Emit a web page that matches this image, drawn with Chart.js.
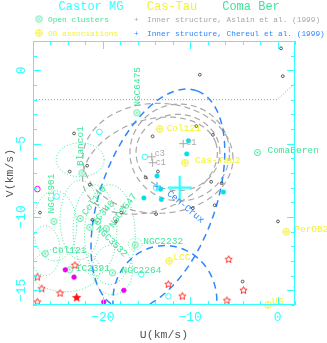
<!DOCTYPE html>
<html>
<head>
<meta charset="utf-8">
<script src="https://cdn.jsdelivr.net/npm/chart.js@4.4.1/dist/chart.umd.min.js"></script>
<style>
html, body { margin: 0; padding: 0; background: #fff; }
</style>
</head>
<body>
<canvas id="uvChart" width="327" height="343"></canvas>
<script>
// axis ranges and tick labels
var uRange = [-28, 2];
var vRange = [-16, 2];
var uTickLabels = [-20, -10, 0];
var vTickLabels = [0, -5, -10, -15];

var titleNames = ["Castor MG", "Cas-Tau", "Coma Ber"];
var legendLabels = ["Open clusters", "OB associations",
    "Inner structure, Aslain et al. (1999)", "Inner structure, Chereul et al. (1999)"];

// open clusters
var clusterNames = ["NGC6475", "Blanco1", "NGC1901", "Col140", "IC348", "NGC2547", "NGC3532",
    "NGC2232", "NGC2264", "IC2391", "Col121", "ComaBeren"];
var clusterU = [-16.1, -22.4, -25.6, -22.6, -21.5, -19.6, -20.6, -16.3, -18.9, -23.8, -26.6, -2.3];
var clusterV = [-2.9, -7.0, -10.3, -10.1, -10.7, -10.8, -10.3, -11.9, -13.8, -13.6, -12.5, -5.6];

// OB associations
var obNames = ["Col121", "Cas-Tau2", "PerOB2", "LCC", "US"];
var obU = [-13.5, -10.6, 1.0, -12.4, -1.1];
var obV = [-4.0, -6.3, -11.0, -13.0, -16.0];

// Castor MG members
var castorU = [-10.2, -10.4, -13.8, -13.4, -15.3, -13.3, -6.2];
var castorV = [-4.8, -5.7, -7.2, -8.1, -8.7, -8.8, -8.3];
var castorOpenU = [-20.4, -15.2, -25.3, -13.9, -15.6, -12.5];
var castorOpenV = [-4.2, -5.9, -8.6, -8.0, -13.9, -15.4];
var castorMeanU = [-11.2];
var castorMeanV = [-8.0];

// field stars
var fieldU = [0.4, -8.9, 0.6, -23.3, -14.3, -7.4, -9.3, -21.8, -23.8, -15.1, -13.7, -21.5,
    -7.6, -6.4, -27.2, -17.9, -13.9, -9.7, -7.2, -18.5, -21.2, 0.05, -4.0];
var fieldV = [1.5, -0.3, -0.4, -4.3, -4.5, -4.4, -3.8, -6.5, -6.9, -7.3, -6.9, -7.8,
    -7.6, -7.7, -9.7, -9.7, -9.8, -9.4, -9.2, -10.3, -10.2, -10.3, -14.4];

var magentaOpenU = [-27.5];
var magentaOpenV = [-8.1];
var magentaU = [-24.3, -23.3, -17.6, -19.9];
var magentaV = [-13.6, -14.1, -15.0, -15.8];

var starU = [-27.5, -27.0, -24.9, -27.5, -23.2, -12.5, -10.9, -5.6, -3.9, -5.8];
var starV = [-14.1, -14.9, -15.2, -15.8, -13.3, -14.6, -15.4, -12.9, -15.0, -15.7];
var starFilledU = [-23.0];
var starFilledV = [-15.5];

// inner structures
var asiainNames = ["c3", "c1", "c1"];
var asiainU = [-14.4, -14.3, -10.8];
var asiainV = [-5.9, -6.3, -5.0];
var chereulNames = ["Cen-Crux"];
var chereulU = [-13.8];
var chereulV = [-7.9];

// dotted limit line
var limitU = [-28, 0, 2];
var limitV = [-2, -2, -0.85];

// ellipses: centre u, v, first semi-axis (du, dv), second semi-axis (du, dv)
var asiainEllipses = [
    [-11.4, -5.6, 4.8, 0, 0, 2.6],
    [-11.2, -5.6, 5.7, 0, 0, 3.3],
    [-13.7, -6.0, 8.6, 0, 0, 3.75],
    [-14.6, -6.5, 7.5, 1.6, 1.8, -2.9]
];
var chereulEllipses = [
    [-13.7, -8.8, 4.5, 7.4, 6.2, -1.35],
    [-12.9, -15.7, 5.95, 0, 0, 3.75]
];
var clusterEllipses = [
    [-22.6, -6.1, 2.75, 0, 0, 1.16],
    [-25.5, -10.6, 2.5, 0, 0, 2.4],
    [-22.6, -10.2, 2.3, 0, 0, 2.7],
    [-20.9, -10.9, 2.5, 0, 0, 3.1],
    [-19.2, -11.2, 2.9, 0, 0, 3.4],
    [-24.3, -13.6, 4.0, 0, 0, 1.5],
    [-18.9, -13.6, 2.3, 0, 0, 1.7],
    [-16.3, -11.85, 0.8, 0, 0, 0.41],
    [-26.6, -12.3, 1.7, 0, 0, 1.7]
];

// colours and label placement (pixel offsets from the marker)
var cyan = "#33ffff";
var green = "#3fe59a";
var yellow = "#f2f230";
var blue = "#2f86ff";
var gray = "#a8a8a8";
var monoFont = "'Liberation Mono', 'DejaVu Sans Mono', monospace";

var clusterLabelPos = [
    [1, -6, -90], [-1, -7, -90], [-2, -8, -90], [4, -4, -54], [4, -4, -48], [5, -2, -54],
    [0, 6, 45], [8, -3, 0], [9, -2, 0], [6, -1, 0], [7, -3, 0], [10, -2, 0]
];
var obLabelPos = [[7, -1], [10, -2], [8, -2], [4, -4], [4, -4]];
var asiainLabelPos = [[3, -3], [3, 0], [3, -1]];
var chereulLabelPos = [[11, 6, 40]];

function makeSymbol(kind, color, r) {
    var size = Math.ceil(r * 2 + 3);
    var c = document.createElement('canvas');
    c.width = size;
    c.height = size;
    var g = c.getContext('2d');
    var m = size / 2;
    g.strokeStyle = color;
    g.fillStyle = color;
    g.lineWidth = 1;
    if (kind == 'cluster') {
        g.beginPath(); g.arc(m, m, r, 0, Math.PI * 2); g.stroke();
        g.beginPath(); g.arc(m, m, 0.9, 0, Math.PI * 2); g.fill();
    } else if (kind == 'ob') {
        g.beginPath(); g.arc(m, m, r, 0, Math.PI * 2); g.stroke();
        g.beginPath();
        g.moveTo(m - r, m); g.lineTo(m + r, m);
        g.moveTo(m, m - r); g.lineTo(m, m + r);
        g.stroke();
    } else {
        g.beginPath();
        for (var i = 0; i < 10; i++) {
            var a = -Math.PI / 2 + i * Math.PI / 5;
            var rr = i % 2 ? r * 0.45 : r;
            g.lineTo(m + rr * Math.cos(a), m + rr * Math.sin(a));
        }
        g.closePath();
        if (kind == 'starFilled') g.fill(); else g.stroke();
    }
    return c;
}

var clusterSym = makeSymbol('cluster', green, 3);
var obSym = makeSymbol('ob', yellow, 3.3);
var starSym = makeSymbol('star', "#ff3030", 3.8);
var starFilledSym = makeSymbol('starFilled', "#ff1010", 5);

function pts(us, vs) {
    return us.map(function(u, i) { return {x: u, y: vs[i]}; });
}

function drawEllipses(ctx, xs, ys, list, color, dash, width) {
    ctx.strokeStyle = color;
    ctx.lineWidth = width;
    ctx.setLineDash(dash);
    list.forEach(function(e) {
        ctx.beginPath();
        for (var k = 0; k <= 120; k++) {
            var t = k / 120 * Math.PI * 2;
            var u = e[0] + e[2] * Math.cos(t) + e[4] * Math.sin(t);
            var v = e[1] + e[3] * Math.cos(t) + e[5] * Math.sin(t);
            var px = xs.getPixelForValue(u), py = ys.getPixelForValue(v);
            if (k == 0) ctx.moveTo(px, py); else ctx.lineTo(px, py);
        }
        ctx.stroke();
    });
    ctx.setLineDash([]);
}

function drawLabel(ctx, text, x, y, rot, color, size) {
    ctx.save();
    ctx.translate(x, y);
    ctx.rotate((rot || 0) * Math.PI / 180);
    ctx.fillStyle = color;
    ctx.font = size + "px " + monoFont;
    ctx.textAlign = 'left';
    ctx.textBaseline = 'middle';
    ctx.fillText(text, 0, 0);
    ctx.restore();
}

var overlay = {
    id: 'overlay',
    beforeDatasetsDraw: function(chart) {
        var ctx = chart.ctx, a = chart.chartArea;
        var xs = chart.scales.x, ys = chart.scales.y;
        ctx.save();
        ctx.beginPath();
        ctx.rect(a.left, a.top, a.right - a.left, a.bottom - a.top);
        ctx.clip();
        drawEllipses(ctx, xs, ys, clusterEllipses, green, [1, 2], 1);
        drawEllipses(ctx, xs, ys, asiainEllipses, gray, [6, 4], 1.2);
        drawEllipses(ctx, xs, ys, chereulEllipses, blue, [7, 5], 1.5);
        ctx.restore();
    },
    afterDatasetsDraw: function(chart) {
        var ctx = chart.ctx;
        var xs = chart.scales.x, ys = chart.scales.y;
        clusterNames.forEach(function(n, i) {
            var p = clusterLabelPos[i];
            drawLabel(ctx, n, xs.getPixelForValue(clusterU[i]) + p[0],
                ys.getPixelForValue(clusterV[i]) + p[1], p[2], green, 9.5);
        });
        obNames.forEach(function(n, i) {
            var p = obLabelPos[i];
            drawLabel(ctx, n, xs.getPixelForValue(obU[i]) + p[0],
                ys.getPixelForValue(obV[i]) + p[1], 0, yellow, 9.5);
        });
        asiainNames.forEach(function(n, i) {
            var p = asiainLabelPos[i];
            drawLabel(ctx, n, xs.getPixelForValue(asiainU[i]) + p[0],
                ys.getPixelForValue(asiainV[i]) + p[1], 0, gray, 8.5);
        });
        chereulNames.forEach(function(n, i) {
            var p = chereulLabelPos[i];
            drawLabel(ctx, n, xs.getPixelForValue(chereulU[i]) + p[0],
                ys.getPixelForValue(chereulV[i]) + p[1], p[2], blue, 9.5);
        });
    },
    afterDraw: function(chart) {
        var ctx = chart.ctx, a = chart.chartArea;
        var xs = chart.scales.x, ys = chart.scales.y;
        ctx.save();
        // frame
        ctx.strokeStyle = cyan;
        ctx.lineWidth = 1;
        ctx.strokeRect(a.left + 0.5, a.top + 0.5, a.right - a.left - 1, a.bottom - a.top - 1);
        // inward ticks
        ctx.beginPath();
        for (var u = uRange[0]; u <= uRange[1]; u += 2) {
            var px = Math.round(xs.getPixelForValue(u)) + 0.5;
            var len = (u % 10 == 0) ? 8 : 4;
            ctx.moveTo(px, a.bottom); ctx.lineTo(px, a.bottom - len);
            ctx.moveTo(px, a.top); ctx.lineTo(px, a.top + len);
        }
        for (var v = vRange[0]; v <= vRange[1]; v += 1) {
            var py = Math.round(ys.getPixelForValue(v)) + 0.5;
            var l2 = (v % 5 == 0) ? 8 : 4;
            ctx.moveTo(a.left, py); ctx.lineTo(a.left + l2, py);
            ctx.moveTo(a.right, py); ctx.lineTo(a.right - l2, py);
        }
        ctx.stroke();
        // rotated V tick labels
        ys.ticks.forEach(function(t) {
            ctx.save();
            ctx.translate(22, ys.getPixelForValue(t.value));
            ctx.rotate(-Math.PI / 2);
            ctx.fillStyle = cyan;
            ctx.font = "13px " + monoFont;
            ctx.textAlign = 'center';
            ctx.textBaseline = 'middle';
            ctx.fillText(t.value < 0 ? "\u2212" + Math.abs(t.value) : String(t.value), 0, 0);
            ctx.restore();
        });
        // title row
        var titleColors = [cyan, yellow, green];
        var titleX = [91, 172, 251];
        ctx.font = "12px " + monoFont;
        ctx.textAlign = 'center';
        ctx.textBaseline = 'middle';
        titleNames.forEach(function(n, i) {
            ctx.fillStyle = titleColors[i];
            ctx.fillText(n, titleX[i], 7);
        });
        // legend
        ctx.drawImage(clusterSym, 39 - clusterSym.width / 2, 19 - clusterSym.height / 2);
        ctx.drawImage(obSym, 39 - obSym.width / 2, 33 - obSym.height / 2);
        ctx.font = "7.8px " + monoFont;
        ctx.textAlign = 'left';
        ctx.fillStyle = green; ctx.fillText(legendLabels[0], 48, 20);
        ctx.fillStyle = yellow; ctx.fillText(legendLabels[1], 48, 34);
        ctx.fillStyle = gray; ctx.fillText("+", 134, 20); ctx.fillText(legendLabels[2], 147, 20);
        ctx.fillStyle = blue; ctx.fillText("+", 134, 34); ctx.fillText(legendLabels[3], 147, 34);
        ctx.restore();
    }
};

var ctx = document.getElementById("uvChart").getContext('2d');

var uvChart = new Chart(ctx, {
    type: 'scatter',
    data: {
        datasets: [
            {data: pts(limitU, limitV), showLine: true, borderColor: "#999", borderWidth: 1,
                borderDash: [1, 2], pointRadius: 0, fill: false},
            {data: pts(fieldU, fieldV), pointStyle: 'circle', pointRadius: 1.4,
                borderColor: "#333", borderWidth: 0.8, backgroundColor: 'rgba(0,0,0,0)'},
            {data: pts(castorOpenU, castorOpenV), pointStyle: 'circle', pointRadius: 2.8,
                borderColor: cyan, borderWidth: 1, backgroundColor: 'rgba(0,0,0,0)'},
            {data: pts(castorU, castorV), pointStyle: 'circle', pointRadius: 2.3,
                borderColor: "#00e0e8", borderWidth: 0.5, backgroundColor: "#00e0e8"},
            {data: pts(magentaOpenU, magentaOpenV), pointStyle: 'circle', pointRadius: 2.8,
                borderColor: "#ff00ff", borderWidth: 1, backgroundColor: 'rgba(0,0,0,0)'},
            {data: pts(magentaU, magentaV), pointStyle: 'circle', pointRadius: 2.4,
                borderColor: "#ee00ee", borderWidth: 0.5, backgroundColor: "#ee00ee"},
            {data: pts(starU, starV), pointStyle: starSym},
            {data: pts(starFilledU, starFilledV), pointStyle: starFilledSym},
            {data: pts(asiainU, asiainV), pointStyle: 'cross', pointRadius: 4,
                borderColor: gray, borderWidth: 1},
            {data: pts(chereulU, chereulV), pointStyle: 'cross', pointRadius: 4,
                borderColor: blue, borderWidth: 1},
            {data: pts(castorMeanU, castorMeanV), pointStyle: 'cross', pointRadius: 12,
                borderColor: cyan, borderWidth: 2.2},
            {data: pts(clusterU, clusterV), pointStyle: clusterSym},
            {data: pts(obU, obV), pointStyle: obSym, clip: false}
        ]
    },
    options: {
        responsive: false,
        animation: false,
        devicePixelRatio: 1,
        layout: {padding: {top: 41, right: 32, left: 0, bottom: 0}},
        plugins: {legend: {display: false}, tooltip: {enabled: false}},
        scales: {
            x: {
                type: 'linear', min: uRange[0], max: uRange[1],
                grid: {display: false, drawTicks: false},
                border: {display: false},
                afterBuildTicks: function(s) { s.ticks = uTickLabels.map(function(v) { return {value: v}; }); },
                afterFit: function(s) { s.height = 38; },
                ticks: {
                    color: cyan, padding: 5,
                    font: {family: monoFont, size: 13},
                    callback: function(v) { return v < 0 ? "\u2212" + Math.abs(v) : String(v); }
                },
                title: {display: true, text: "U(km/s)", color: "#555",
                    font: {family: monoFont, size: 11.5}, padding: {top: 0, bottom: 1}}
            },
            y: {
                type: 'linear', min: vRange[0], max: vRange[1],
                grid: {display: false, drawTicks: false},
                border: {display: false},
                afterBuildTicks: function(s) { s.ticks = vTickLabels.map(function(v) { return {value: v}; }); },
                afterFit: function(s) { s.width = 33; },
                ticks: {display: false},
                title: {display: true, text: "V(km/s)", color: "#555",
                    font: {family: monoFont, size: 11.5}, padding: {top: 3, bottom: 0}}
            }
        }
    },
    plugins: [overlay]
});
</script>
</body>
</html>
